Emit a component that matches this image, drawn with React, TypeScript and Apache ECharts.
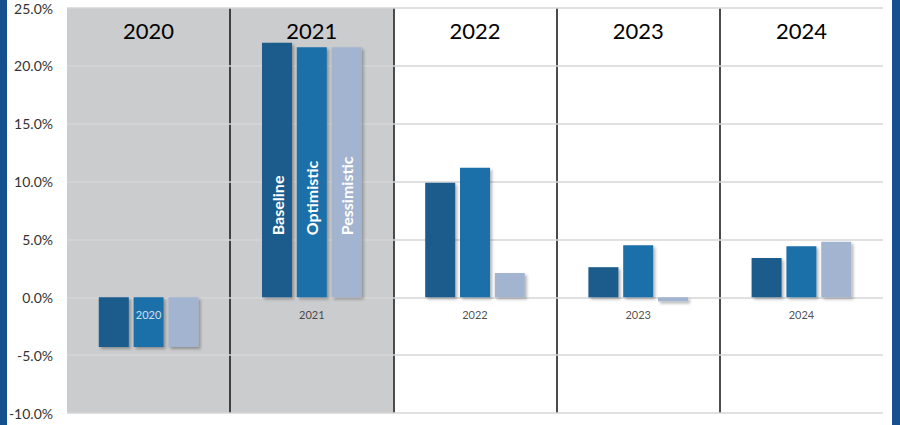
import React, { useEffect, useRef } from 'react';
import * as echarts from 'echarts';

const categories = ['2020', '2021', '2022', '2023', '2024'];
const seriesNames = ['Baseline', 'Optimistic', 'Pessimistic'];
const baseline = [-4.3, 22.0, 9.9, 2.6, 3.4];
const optimistic = [-4.3, 21.6, 11.2, 4.5, 4.4];
const pessimistic = [-4.3, 21.6, 2.1, -0.35, 4.8];
const yTicks = { min: -10, max: 25, interval: 5 };

const FONT = 'Lato';
const COLORS = ['#1a5b8c', '#1b6fa9', '#a3b4d0'];

export default function App() {
  const ref = useRef<HTMLDivElement>(null);

  useEffect(() => {
    document.body.style.margin = '0';
    const chart = echarts.init(ref.current!, null, { renderer: 'svg' });

    const mkSeries = (name: string, data: number[], color: string) => ({
      type: 'bar',
      name,
      xAxisIndex: 0,
      barWidth: 30,
      barGap: '16%',
      itemStyle: {
        color,
        shadowBlur: 3,
        shadowOffsetX: 2,
        shadowOffsetY: 2,
        shadowColor: 'rgba(0,0,0,0.3)',
      },
      data: data.map((v, i) =>
        i === 1
          ? {
              value: v,
              label: {
                show: true,
                formatter: name,
                position: 'insideBottom',
                rotate: 90,
                align: 'left',
                verticalAlign: 'middle',
                distance: 62,
                color: '#ffffff',
                fontWeight: 'bold',
                fontSize: 16,
                fontFamily: FONT,
              },
            }
          : v
      ),
    });

    // category labels sitting just below the zero line
    const zeroLabels = {
      type: 'scatter',
      name: 'categoryLabels',
      xAxisIndex: 0,
      symbolSize: 0,
      z: 10,
      silent: true,
      data: categories.map((c, i) => ({
        value: 0,
        label: {
          show: true,
          position: 'bottom',
          distance: 12,
          formatter: c,
          fontSize: 11,
          fontFamily: FONT,
          color: i === 0 ? '#ffffff' : '#222222',
        },
      })),
    };

    chart.setOption({
      animation: false,
      backgroundColor: '#ffffff',
      grid: { left: 67, right: 17, top: 8, bottom: 12, containLabel: false, outerBoundsMode: 'none' },
      xAxis: [
        {
          type: 'category',
          data: categories,
          position: 'bottom',
          axisLine: { show: false },
          axisTick: { show: false },
          axisLabel: { show: false },
          splitLine: { show: false },
        },
        {
          type: 'category',
          data: categories,
          position: 'top',
          z: 0,
          axisLine: { show: false, onZero: false },
          axisTick: { show: false },
          axisLabel: {
            inside: true,
            margin: 11,
            fontSize: 22,
            fontFamily: FONT,
            color: '#000000',
          },
          splitArea: {
            show: true,
            areaStyle: { color: ['#cbcccd', '#cbcccd', '#ffffff', '#ffffff', '#ffffff'] },
          },
          splitLine: {
            show: true,
            lineStyle: {
              color: ['rgba(0,0,0,0)', '#111111', '#111111', '#111111', '#111111', 'rgba(0,0,0,0)'],
              width: 1.5,
            },
          },
        },
      ],
      yAxis: {
        type: 'value',
        min: yTicks.min,
        max: yTicks.max,
        interval: yTicks.interval,
        z: 1,
        axisLine: { show: false },
        axisTick: { show: false },
        axisLabel: {
          fontSize: 14,
          fontFamily: FONT,
          color: '#333333',
          margin: 14,
          formatter: (v: number) => `${v.toFixed(1)}%`,
        },
        splitLine: { show: true, lineStyle: { color: '#d6d6d6', width: 1.5 } },
      },
      series: [
        mkSeries(seriesNames[0], baseline, COLORS[0]),
        mkSeries(seriesNames[1], optimistic, COLORS[1]),
        mkSeries(seriesNames[2], pessimistic, COLORS[2]),
        zeroLabels,
      ],
      graphic: [
        { type: 'rect', shape: { x: 0, y: 0, width: 7, height: 425 }, style: { fill: '#17508f' }, z: 100 },
        { type: 'rect', shape: { x: 892, y: 0, width: 8, height: 425 }, style: { fill: '#17508f' }, z: 100 },
      ],
    });

    return () => chart.dispose();
  }, []);

  return <div ref={ref} style={{ width: 900, height: 425 }} />;
}
